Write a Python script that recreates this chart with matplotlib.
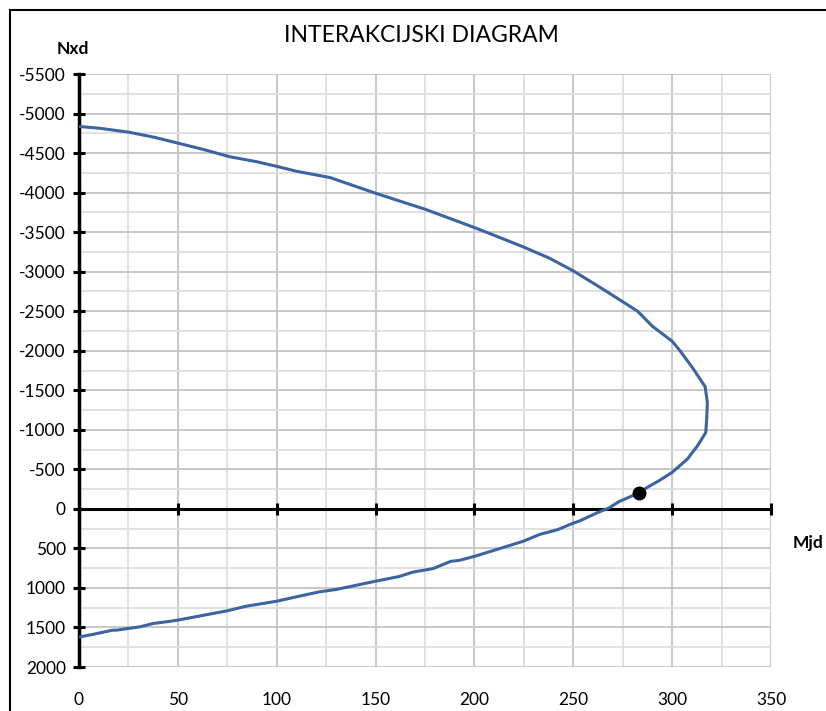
import matplotlib
matplotlib.use("Agg")
import matplotlib.pyplot as plt
from matplotlib.patches import Rectangle
from matplotlib.ticker import MultipleLocator

plt.rcParams['font.family'] = ['Lato', 'DejaVu Sans']
plt.rcParams['axes.unicode_minus'] = False

# interaction curve M (kNm) - N (kN)
mjd = [0, 10, 25, 38, 50, 63, 76, 90, 100, 110, 127, 150, 175, 200, 212, 225,
       238, 250, 263, 275, 282.5, 290, 300, 303.5, 310.3, 316.7, 317.8, 317.5,
       317, 312.8, 307.7, 300, 293.4, 287.5, 283, 273, 268, 262, 253, 250, 242,
       233, 225, 211, 200, 192.4, 188, 179, 169, 162, 150, 130, 121.7, 110, 100,
       84.6, 75, 50, 44.3, 37.6, 31, 19, 17, 7, 0]
nxd = [-4836, -4815, -4765, -4700, -4626, -4545, -4455, -4390, -4332, -4270,
       -4190, -3992, -3790, -3558, -3440, -3310, -3170, -3010, -2810, -2620,
       -2500, -2310, -2120, -2015, -1785, -1545, -1345, -1150, -965, -797, -630,
       -462, -357, -273, -200, -90, -10, 50, 155, 180, 264, 323, 407, 516, 601,
       651, 664, 756, 799, 855, 915, 1020, 1049, 1112, 1168, 1231, 1289, 1407,
       1428, 1449, 1491, 1534, 1534, 1588, 1620]

# design load point
load_m = [283]
load_n = [-200]

W, H = 826, 711
fig = plt.figure(figsize=(W / 100, H / 100), dpi=100)
ax = fig.add_axes([79 / W, 1 - 667 / H, 692 / W, 593 / H])

ax.set_xlim(0, 350)
ax.set_ylim(2000, -5500)

ax.xaxis.set_major_locator(MultipleLocator(50))
ax.xaxis.set_minor_locator(MultipleLocator(25))
ax.yaxis.set_major_locator(MultipleLocator(500))
ax.yaxis.set_minor_locator(MultipleLocator(250))
ax.grid(which='major', color='#c4c4c4', linewidth=1.3)
ax.grid(which='minor', color='#dedede', linewidth=1.3)
ax.set_axisbelow(True)

for s in ['top', 'right']:
    ax.spines[s].set_visible(False)
ax.spines['left'].set_linewidth(2.5)
ax.spines['bottom'].set_position(('data', 0))
ax.spines['bottom'].set_linewidth(2.2)
ax.spines['bottom'].set_zorder(1.5)

ax.tick_params(axis='y', which='major', direction='inout', length=9, width=2.2,
               labelsize=12.5, pad=5)
ax.tick_params(axis='x', which='major', direction='inout', length=9, width=2.2,
               labelbottom=False)
ax.tick_params(which='minor', length=0)

sec = ax.secondary_xaxis('bottom')
sec.spines['bottom'].set_visible(False)
sec.xaxis.set_major_locator(MultipleLocator(50))
sec.tick_params(length=0, labelsize=12.5, pad=18)

ax.plot(mjd, nxd, color='#3b64a0', linewidth=2.2, zorder=3)
ax.plot(load_m, load_n, 'o', color='black', markersize=9, zorder=4)

# chart frame
fig.patches.append(Rectangle((10 / W, -0.1), 1.2, 1 - 10 / H + 0.1,
                             transform=fig.transFigure, fill=False,
                             edgecolor='black', linewidth=1.5))

fig.text(421 / W, 1 - 35 / H, 'INTERAKCIJSKI DIAGRAM', ha='center',
         va='center', fontsize=16.5)
fig.text(73 / W, 1 - 49 / H, 'Nxd', ha='center', va='center', fontsize=12.5,
         fontweight='bold')
fig.text(808 / W, 1 - 543 / H, 'Mjd', ha='center', va='center', fontsize=12.5,
         fontweight='bold')

fig.savefig('out.png', dpi=100)
